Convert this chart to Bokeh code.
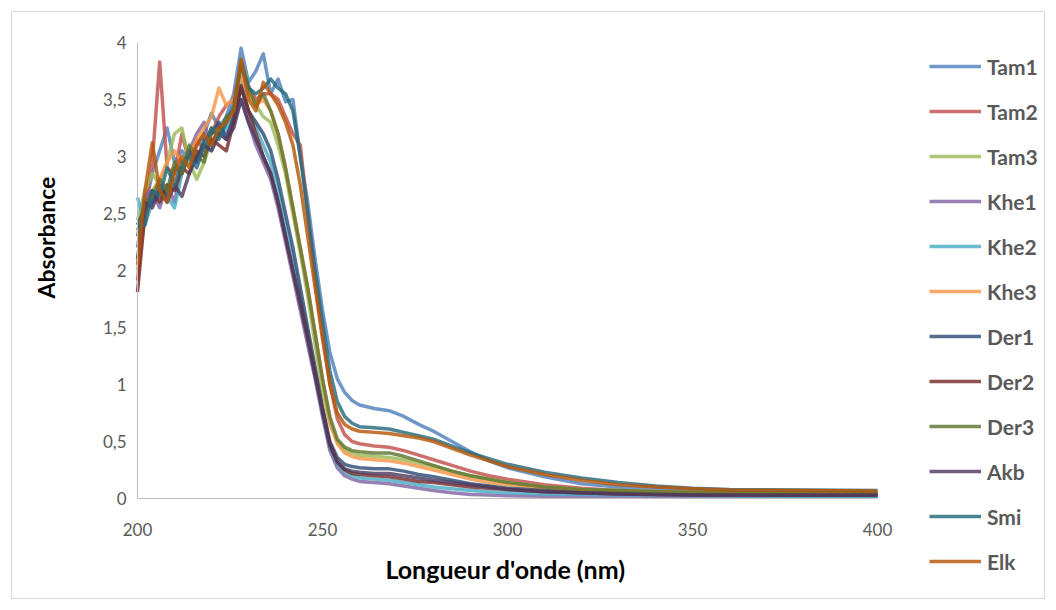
import math
from bokeh.plotting import figure
from bokeh.models import FixedTicker, Legend, LegendItem, Label, Range1d
from bokeh.embed import file_html
from bokeh.resources import INLINE

wavelength = [200, 202, 204, 206, 208, 210, 212, 214, 216, 218, 220, 222, 224, 226, 228, 230,
              232, 234, 236, 238, 240, 242, 244, 246, 248, 250,
              252, 254, 256, 258, 260, 264, 268, 272, 276, 280, 285, 290, 295, 300,
              310, 320, 330, 340, 350, 360, 380, 400]

tam1 = [2.35, 2.55, 2.85, 3.05, 3.25, 2.95, 3.05, 2.95, 3.1, 3.2, 3.38, 3.25, 3.35, 3.55, 3.95, 3.65,
        3.75, 3.9, 3.55, 3.68, 3.48, 3.5, 3.0, 2.6, 2.1, 1.65,
        1.28, 1.05, 0.93, 0.86, 0.82, 0.79, 0.77, 0.72, 0.65, 0.59, 0.5, 0.41, 0.33, 0.27,
        0.19, 0.13, 0.1, 0.08, 0.06, 0.05, 0.045, 0.04]
tam2 = [1.91, 2.55, 2.95, 3.83, 2.9, 2.85, 3.2, 2.95, 3.15, 3.05, 3.2, 3.35, 3.45, 3.5, 3.78, 3.62,
        3.5, 3.55, 3.55, 3.5, 3.35, 3.2, 3.1, 2.5, 1.9, 1.45,
        1.0, 0.7, 0.56, 0.5, 0.48, 0.46, 0.45, 0.42, 0.38, 0.34, 0.29, 0.24, 0.2, 0.17,
        0.12, 0.09, 0.07, 0.06, 0.05, 0.05, 0.045, 0.04]
tam3 = [2.44, 2.7, 2.85, 2.75, 2.95, 3.2, 3.25, 2.95, 2.8, 2.95, 3.15, 3.2, 3.3, 3.35, 3.72, 3.55,
        3.45, 3.35, 3.3, 3.1, 2.85, 2.5, 2.15, 1.78, 1.35, 0.95,
        0.65, 0.5, 0.43, 0.4, 0.38, 0.37, 0.36, 0.34, 0.31, 0.28, 0.24, 0.2, 0.17, 0.14,
        0.1, 0.08, 0.07, 0.06, 0.055, 0.05, 0.05, 0.05]
khe1 = [2.2, 2.65, 2.7, 2.55, 2.75, 2.6, 2.9, 3.05, 3.2, 3.3, 3.1, 3.25, 3.2, 3.3, 3.5, 3.3,
        3.1, 2.95, 2.8, 2.55, 2.25, 1.95, 1.65, 1.35, 1.05, 0.72,
        0.42, 0.27, 0.2, 0.17, 0.15, 0.14, 0.13, 0.11, 0.09, 0.07, 0.05, 0.035, 0.03, 0.025,
        0.02, 0.02, 0.02, 0.02, 0.02, 0.02, 0.02, 0.02]
khe2 = [2.64, 2.4, 2.6, 2.7, 2.65, 2.55, 2.85, 3.0, 2.95, 3.1, 3.05, 3.2, 3.25, 3.35, 3.65, 3.4,
        3.25, 3.1, 2.95, 2.7, 2.4, 2.1, 1.78, 1.45, 1.1, 0.75,
        0.45, 0.3, 0.23, 0.2, 0.18, 0.17, 0.16, 0.14, 0.12, 0.1, 0.085, 0.07, 0.06, 0.05,
        0.04, 0.035, 0.03, 0.03, 0.025, 0.025, 0.02, 0.02]
khe3 = [2.0, 2.45, 2.7, 2.8, 2.95, 3.05, 2.95, 3.0, 3.15, 3.25, 3.35, 3.6, 3.45, 3.5, 3.7, 3.55,
        3.45, 3.5, 3.4, 3.2, 2.9, 2.55, 2.2, 1.85, 1.45, 1.05,
        0.68, 0.48, 0.4, 0.37, 0.35, 0.34, 0.33, 0.31, 0.28, 0.25, 0.21, 0.17, 0.14, 0.12,
        0.09, 0.07, 0.06, 0.055, 0.05, 0.05, 0.045, 0.045]
der1 = [2.4, 2.55, 2.6, 2.75, 2.65, 2.9, 2.85, 3.05, 2.95, 3.15, 3.2, 3.3, 3.15, 3.35, 3.6, 3.4,
        3.3, 3.2, 3.05, 2.8, 2.5, 2.2, 1.85, 1.5, 1.15, 0.8,
        0.5, 0.36, 0.3, 0.28, 0.27, 0.26, 0.26, 0.24, 0.21, 0.19, 0.16, 0.13, 0.11, 0.09,
        0.07, 0.05, 0.045, 0.04, 0.035, 0.035, 0.03, 0.03]
der2 = [1.81, 2.5, 2.7, 2.6, 2.75, 2.7, 2.9, 2.85, 3.05, 3.0, 3.15, 3.1, 3.05, 3.3, 3.62, 3.4,
        3.2, 3.0, 2.85, 2.6, 2.3, 2.0, 1.72, 1.42, 1.1, 0.78,
        0.48, 0.32, 0.25, 0.22, 0.21, 0.2, 0.19, 0.17, 0.15, 0.14, 0.12, 0.1, 0.09, 0.08,
        0.06, 0.05, 0.04, 0.035, 0.03, 0.03, 0.03, 0.03]
der3 = [2.3, 2.6, 2.65, 2.8, 2.7, 2.95, 2.85, 3.1, 3.0, 2.95, 3.25, 3.2, 3.35, 3.4, 3.85, 3.6,
        3.45, 3.55, 3.4, 3.2, 2.9, 2.55, 2.2, 1.85, 1.45, 1.05,
        0.72, 0.52, 0.45, 0.42, 0.41, 0.4, 0.4, 0.37, 0.33, 0.29, 0.24, 0.2, 0.17, 0.14,
        0.1, 0.08, 0.07, 0.06, 0.055, 0.05, 0.05, 0.05]
akb = [2.1, 2.6, 2.55, 2.7, 2.6, 2.75, 2.65, 2.85, 3.0, 3.1, 3.05, 3.2, 3.15, 3.25, 3.5, 3.3,
       3.15, 3.0, 2.85, 2.6, 2.3, 2.0, 1.7, 1.4, 1.08, 0.76,
       0.46, 0.32, 0.26, 0.24, 0.23, 0.22, 0.22, 0.2, 0.18, 0.16, 0.14, 0.12, 0.1, 0.08,
       0.06, 0.05, 0.04, 0.035, 0.03, 0.03, 0.03, 0.03]
smi = [2.38, 2.4, 2.7, 2.65, 2.9, 2.75, 2.95, 3.0, 2.9, 3.1, 3.25, 3.15, 3.3, 3.45, 3.8, 3.6,
       3.55, 3.6, 3.68, 3.6, 3.55, 3.4, 3.0, 2.5, 2.0, 1.55,
       1.12, 0.85, 0.72, 0.66, 0.63, 0.62, 0.61, 0.58, 0.55, 0.52, 0.46, 0.4, 0.35, 0.3,
       0.23, 0.18, 0.14, 0.11, 0.09, 0.08, 0.075, 0.07]
elk = [2.05, 2.7, 3.12, 2.7, 2.6, 2.85, 3.0, 2.9, 3.1, 3.2, 3.1, 3.25, 3.3, 3.4, 3.85, 3.5,
       3.4, 3.65, 3.55, 3.45, 3.3, 3.1, 2.75, 2.3, 1.85, 1.4,
       1.0, 0.75, 0.65, 0.61, 0.59, 0.58, 0.57, 0.55, 0.53, 0.5, 0.44, 0.38, 0.33, 0.28,
       0.21, 0.16, 0.12, 0.1, 0.085, 0.075, 0.07, 0.065]

names = ["Tam1", "Tam2", "Tam3", "Khe1", "Khe2", "Khe3", "Der1", "Der2", "Der3", "Akb", "Smi", "Elk"]
values = [tam1, tam2, tam3, khe1, khe2, khe3, der1, der2, der3, akb, smi, elk]
colors = ["#4F81BD", "#C0504D", "#9BBB59", "#8064A2", "#4BACC6", "#F79646",
          "#2C4D75", "#772C2A", "#5F7530", "#4D3B62", "#276A7C", "#B65708"]

y_ticks = [0, 0.5, 1, 1.5, 2, 2.5, 3, 3.5, 4]
y_tick_labels = ["0", "0,5", "1", "1,5", "2", "2,5", "3", "3,5", "4"]
x_ticks = [200, 250, 300, 350, 400]

FONT = "Lato"
GREY = "#595959"

W, H = 1056, 610
# plot area in pixels: x 200..400 -> 137..877, y 0..4 -> 498..42
PX_L, PX_R, PY_B, PY_T = 137, 877, 498, 42
sx = (PX_R - PX_L) / (400 - 200)
sy = (PY_B - PY_T) / (4 - 0)
x_range = Range1d(200 - PX_L / sx, 400 + (W - PX_R) / sx)
y_range = Range1d(0 - (H - PY_B) / sy, 4 + PY_T / sy)

p = figure(width=W, height=H, output_backend="svg", toolbar_location=None,
           x_range=x_range, y_range=y_range, min_border=0,
           min_border_left=0, min_border_right=0, min_border_top=0, min_border_bottom=0)
p.border_fill_color = None
p.background_fill_color = None
p.styles = {"box-shadow": "inset 0 0 0 11px #FFFFFF, inset 0 0 0 12px #D9D9D9",
            "background-color": "#FFFFFF"}
p.outline_line_color = None
p.xgrid.visible = False
p.ygrid.visible = False

renderers = []
for n, v, c in zip(names, values, colors):
    r = p.line(wavelength, v, line_color=c, line_width=3.5, line_alpha=0.82, line_join="round")
    renderers.append(r)

for ax in (p.xaxis[0], p.yaxis[0]):
    ax.axis_line_color = "#BFBFBF"
    ax.axis_line_width = 1
    ax.major_tick_line_color = None
    ax.minor_tick_line_color = None
    ax.major_tick_out = 0
    ax.major_tick_in = 0
    ax.major_label_text_font = FONT
    ax.major_label_text_font_size = "17px"
    ax.major_label_text_color = GREY

p.xaxis[0].ticker = FixedTicker(ticks=x_ticks)
p.xaxis[0].fixed_location = 0
p.xaxis[0].bounds = (200, 400)
p.xaxis[0].major_label_standoff = 24

p.yaxis[0].ticker = FixedTicker(ticks=y_ticks)
p.yaxis[0].fixed_location = 200
p.yaxis[0].bounds = (0, 4)
p.yaxis[0].major_label_overrides = {t: l for t, l in zip(y_ticks, y_tick_labels)}
p.yaxis[0].major_label_standoff = 11

xtitle = Label(x=200 + (505 - PX_L) / sx, y=-(568 - PY_B) / sy, text="Longueur d'onde (nm)",
               text_align="center", text_baseline="middle",
               text_font=FONT, text_font_style="bold", text_font_size="25px",
               text_color="#000000")
ytitle = Label(x=200 - (PX_L - 45) / sx, y=(PY_B - 237) / sy, text="Absorbance",
               angle=math.pi / 2, text_align="center", text_baseline="middle",
               text_font=FONT, text_font_style="bold", text_font_size="23px",
               text_color="#000000")
p.add_layout(xtitle)
p.add_layout(ytitle)

legend_top = 41
legend_height = 12 * 26 + 11 * 19 + 2 * 12
items = [LegendItem(label=n, renderers=[r]) for n, r in zip(names, renderers)]
legend = Legend(items=items, location=(929 - 12, H - (legend_top + legend_height)),
                orientation="vertical",
                padding=12, margin=0, glyph_width=52, glyph_height=26,
                label_height=26, label_width=57, spacing=19, label_standoff=6,
                label_text_font=FONT, label_text_font_style="bold",
                label_text_font_size="21px", label_text_color=GREY,
                border_line_alpha=0, background_fill_alpha=0)
p.add_layout(legend)

open("out.html", "w").write(file_html(p, INLINE))
